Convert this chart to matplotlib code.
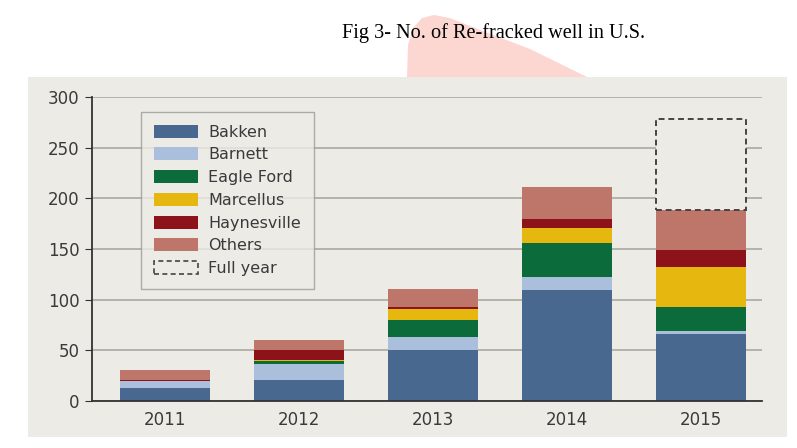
import matplotlib.pyplot as plt
import numpy as np
from matplotlib.patches import Patch, Rectangle, Polygon

years = ['2011', '2012', '2013', '2014', '2015']
bakken = [13, 21, 50, 110, 66]
barnett = [7, 16, 13, 12, 3]
eagle_ford = [0, 2, 17, 34, 24]
marcellus = [0, 1, 11, 15, 39]
haynesville = [1, 10, 2, 9, 17]
others = [10, 10, 18, 31, 39]
full_year_2015 = 278

series = [('Bakken', bakken, '#49688f'),
          ('Barnett', barnett, '#a9bfdc'),
          ('Eagle Ford', eagle_ford, '#0b6b3b'),
          ('Marcellus', marcellus, '#e6b80f'),
          ('Haynesville', haynesville, '#8e1219'),
          ('Others', others, '#bf766a')]

bg = '#ecebe6'
txt = '#3a3a3a'

fig = plt.figure(figsize=(7.97, 4.48), dpi=100)
W, H = 797, 448

# pink watermark blob behind the title
blob = Polygon([(407 / W, 1 - 77 / H), (408 / W, 1 - 45 / H), (413 / W, 1 - 28 / H),
                (422 / W, 1 - 18 / H), (434 / W, 1 - 15 / H), (450 / W, 1 - 18 / H),
                (480 / W, 1 - 30 / H), (530 / W, 1 - 49 / H), (587 / W, 1 - 77 / H)],
               closed=True, transform=fig.transFigure, facecolor='#fcd6d0',
               edgecolor='none', zorder=0)
fig.add_artist(blob)

# grey chart panel
fig.add_artist(Rectangle((28 / W, 1 - 437 / H), (787 - 28) / W, (437 - 77) / H,
                         transform=fig.transFigure, facecolor=bg,
                         edgecolor='none', zorder=0))

fig.text(494 / W, 1 - 33 / H, 'Fig 3- No. of Re-fracked well in U.S.',
         family='Liberation Serif', fontsize=14.6, ha='center', va='center', color='black')

ax = fig.add_axes([92 / W, 1 - 401 / H, (762 - 92) / W, (401 - 97) / H])
ax.set_facecolor('none')

x = np.arange(len(years))
width = 0.665
bottom = np.zeros(len(years))
for name, vals, col in series:
    ax.bar(x, vals, width, bottom=bottom, color=col, label=name, zorder=2)
    bottom += np.array(vals)

# dashed full-year outline for 2015
ax.bar(x[-1], full_year_2015 - bottom[-1], width, bottom=bottom[-1],
       facecolor=bg, edgecolor='#444444', linestyle=(0, (3, 2)), linewidth=1.4, zorder=2)

ax.set_xlim(-0.545, 4.455)
ax.set_ylim(0, 300)
ax.set_yticks(range(0, 301, 50))
ax.set_xticks(x)
ax.set_xticklabels(years)
ax.grid(axis='y', color='#a9a9a2', linewidth=1.2, zorder=1)
ax.set_axisbelow(True)

for s in ['top', 'right']:
    ax.spines[s].set_visible(False)
ax.spines['left'].set_color('#333333')
ax.spines['bottom'].set_color('#333333')
ax.spines['left'].set_linewidth(1.3)
ax.spines['bottom'].set_linewidth(1.3)
ax.tick_params(axis='y', length=5, color='#333333', labelsize=12, labelcolor=txt, pad=4)
ax.tick_params(axis='x', length=0, labelsize=12, labelcolor=txt, pad=7)

handles = [Patch(facecolor=c, label=n) for n, _, c in series]
handles.append(Patch(facecolor=bg, edgecolor='#444444', linestyle=(0, (3, 2)),
                     linewidth=1.2, label='Full year'))
leg = ax.legend(handles=handles, loc='upper left', bbox_to_anchor=(0.073, 0.951),
                borderaxespad=0, fontsize=11.5, frameon=True, fancybox=False,
                handlelength=2.8, handleheight=0.88, labelspacing=0.48,
                handletextpad=0.62, borderpad=0.8, labelcolor=txt)
leg.get_frame().set_facecolor(bg)
leg.get_frame().set_edgecolor('#9a9a96')
leg.get_frame().set_linewidth(1.0)
leg.set_zorder(3)

fig.savefig('out.png', dpi=100, facecolor='white')
